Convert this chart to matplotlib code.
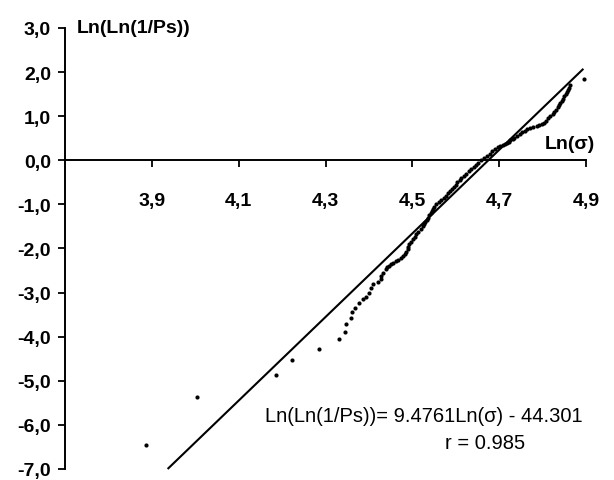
import matplotlib
matplotlib.use("Agg")
import matplotlib.pyplot as plt
from matplotlib.ticker import FuncFormatter, FixedLocator
import numpy as np

plt.rcParams['font.family'] = ['Liberation Sans', 'DejaVu Sans']

# ---- data: Ln(sigma) and Ln(Ln(1/Ps)) ----
ln_sigma = [
    3.886, 4.005, 4.187, 4.223, 4.286, 4.332, 4.344, 4.348, 4.359, 4.361,
    4.367, 4.378, 4.386, 4.393, 4.401, 4.405, 4.409,
    4.420, 4.428, 4.428, 4.432, 4.439, 4.441, 4.446, 4.451, 4.456, 4.462,
    4.468, 4.474, 4.478, 4.482, 4.486, 4.489, 4.491, 4.493, 4.497, 4.501,
    4.505, 4.508, 4.513, 4.520,
    4.524, 4.527, 4.530, 4.533, 4.536, 4.539, 4.542, 4.545, 4.548, 4.551,
    4.554, 4.561, 4.567, 4.573, 4.577, 4.582, 4.586, 4.591, 4.595, 4.600,
    4.604, 4.609, 4.613, 4.618, 4.624, 4.630, 4.635, 4.641, 4.647, 4.652,
    4.658, 4.664, 4.671, 4.678, 4.684, 4.691, 4.697, 4.703, 4.708, 4.713,
    4.718, 4.722, 4.726, 4.731, 4.735, 4.742, 4.748, 4.753, 4.759, 4.765,
    4.772, 4.779, 4.786, 4.792, 4.798, 4.803, 4.807, 4.812,
    4.818, 4.823, 4.827, 4.831, 4.835, 4.838, 4.841, 4.844, 4.847, 4.850,
    4.853, 4.856, 4.859, 4.861, 4.862, 4.895,
]
lnln_ps = [
    -6.46, -5.37, -4.875, -4.53, -4.29, -4.06, -3.89, -3.72, -3.57, -3.45,
    -3.34, -3.23, -3.15, -3.10, -3.00, -2.89, -2.81,
    -2.75, -2.70, -2.62, -2.55, -2.47, -2.43, -2.40, -2.36, -2.32, -2.28,
    -2.25, -2.21, -2.17, -2.13, -2.08, -2.02, -1.96, -1.90, -1.85, -1.79,
    -1.73, -1.68, -1.62, -1.56,
    -1.50, -1.45, -1.40, -1.35, -1.30, -1.25, -1.20, -1.15, -1.10, -1.05,
    -1.00, -0.95, -0.90, -0.85, -0.80, -0.75, -0.70, -0.65, -0.60, -0.55,
    -0.50, -0.45, -0.40, -0.35, -0.30, -0.25, -0.20, -0.15, -0.10, -0.05,
    0.00, 0.05, 0.10, 0.15, 0.20, 0.25, 0.30, 0.325, 0.35, 0.375,
    0.40, 0.425, 0.45, 0.475, 0.50, 0.55, 0.60, 0.65, 0.675, 0.70,
    0.725, 0.75, 0.775, 0.80, 0.825, 0.85, 0.90, 0.95,
    1.00, 1.05, 1.10, 1.15, 1.20, 1.25, 1.30, 1.35, 1.40, 1.45,
    1.50, 1.55, 1.60, 1.65, 1.70, 1.85,
]

fit_slope = 9.4761
fit_intercept = -44.301
fit_x_end = 4.894
r_value = 0.985

x_ticks = [3.9, 4.1, 4.3, 4.5, 4.7, 4.9]
y_ticks = [-7, -6, -5, -4, -3, -2, -1, 0, 1, 2, 3]

# ---- figure ----
fig = plt.figure(figsize=(6.14, 4.81), dpi=100)
ax = fig.add_axes([65/614, 11/481, (586-65)/614, (470-29)/481])
ax.set_xlim(3.7, 4.9)
ax.set_ylim(-7, 3)

ax.scatter(ln_sigma, lnln_ps, s=9, c='black', marker='o', linewidths=0, zorder=3,
           clip_on=False)

ymin = ax.get_ylim()[0]
x_start = (ymin - fit_intercept) / fit_slope
fx = np.array([x_start, fit_x_end])
ax.plot(fx, fit_slope * fx + fit_intercept, color='black', lw=1.5,
        solid_capstyle='butt', zorder=2, clip_on=False)

for side in ['top', 'right']:
    ax.spines[side].set_visible(False)
ax.spines['bottom'].set_position(('data', 0))
ax.spines['left'].set_linewidth(1.4)
ax.spines['bottom'].set_linewidth(1.4)

ax.xaxis.set_major_locator(FixedLocator(x_ticks))
ax.yaxis.set_major_locator(FixedLocator(y_ticks))
comma = FuncFormatter(lambda v, p: f"{v:.1f}".replace('.', ','))
ax.xaxis.set_major_formatter(comma)
ax.yaxis.set_major_formatter(comma)
ax.tick_params(axis='x', direction='out', length=5, width=1.3, pad=18,
               labelsize=14)
ax.tick_params(axis='y', direction='out', length=5, width=1.3, pad=5,
               labelsize=14)
for lab in ax.get_xticklabels() + ax.get_yticklabels():
    lab.set_fontweight('bold')

ax.text(3.7276, 3.0, 'Ln(Ln(1/Ps))', ha='left', va='center', fontsize=14,
        fontweight='bold', clip_on=False)
ax.text(4.8057, 0.385, 'Ln(σ)', ha='left', va='center', fontsize=14,
        fontweight='bold', clip_on=False)
ax.text(4.16, -5.78, f'Ln(Ln(1/Ps))= {fit_slope}Ln(σ) - {-fit_intercept}',
        ha='left', va='center', fontsize=14.5, clip_on=False)
ax.text(4.668, -6.40, f'r = {r_value}', ha='center', va='center',
        fontsize=14.5, clip_on=False)

fig.savefig('out.png', dpi=100)
